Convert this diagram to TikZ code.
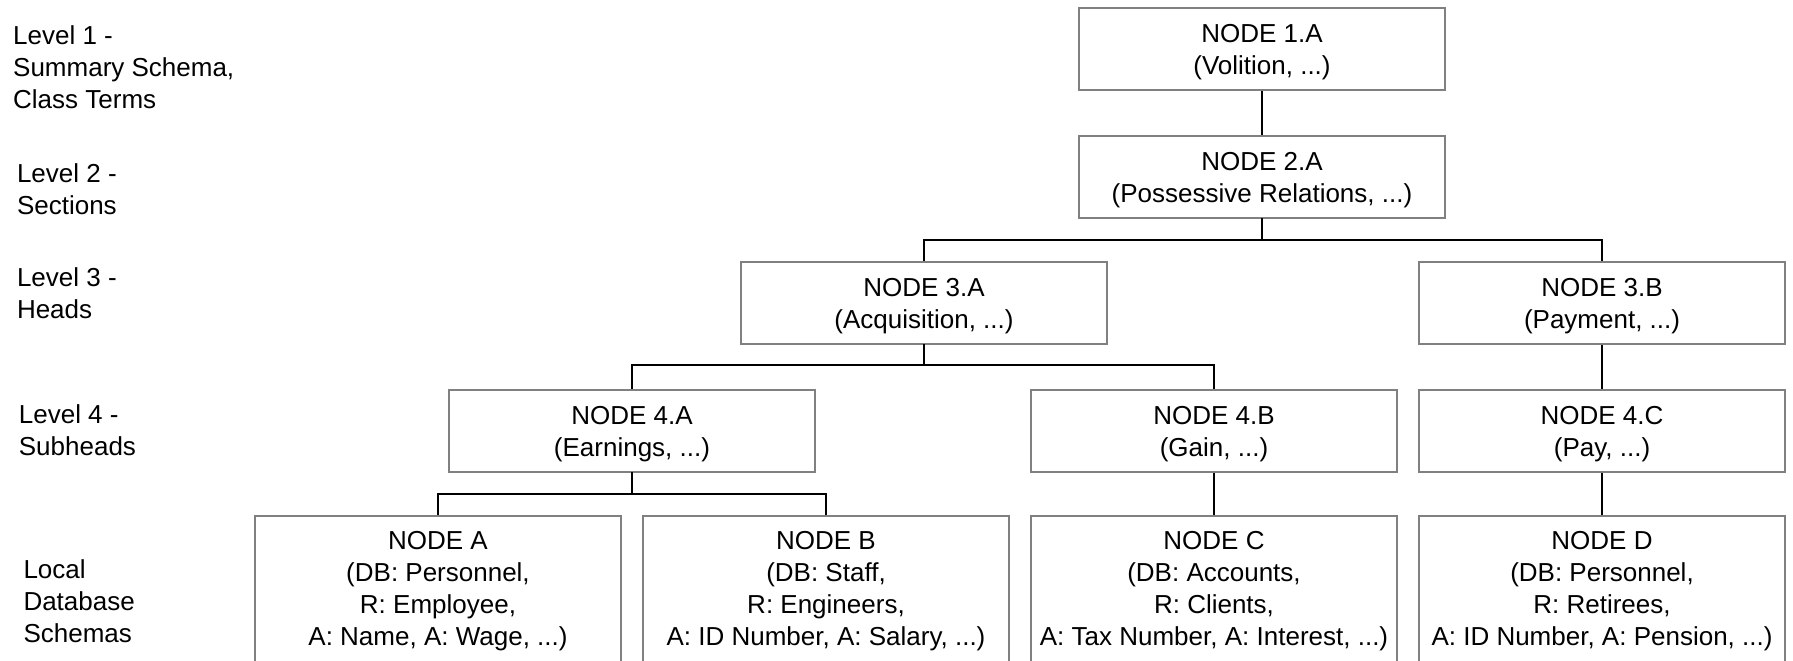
\documentclass[tikz,border=0pt]{standalone}
\usepackage{fontspec}
\setmainfont{Liberation Sans}
\definecolor{boxgray}{HTML}{808080}
\newcommand{\ts}{\rule{0pt}{25pt}}
\newcommand{\bs}{\rule[-5pt]{0pt}{5pt}}
\newcommand{\bsl}{\rule[-11.6pt]{0pt}{11.6pt}}
\begin{document}
\begin{tikzpicture}[x=1pt,y=-1pt,
  txt/.style={font=\fontsize{26}{32}\selectfont},
  box/.style={txt, draw=boxgray, line width=1.8pt, minimum width=366.5pt,
    minimum height=82pt, inner sep=0pt, align=center},
  leaf/.style={box, minimum height=150pt},
  lvl/.style={txt, anchor=north west, inner sep=0pt, align=left},
  bus/.style={line width=1.8pt, black, line cap=rect},
  drop/.style={line width=1.1pt, black}]
\useasboundingbox (0,0) rectangle (1793,661);
\clip (0,0) rectangle (1793,661);

% level labels
\node[lvl] (l1) at (13,19) {\ts Level 1 -\\Summary Schema,\\Class Terms};
\node[lvl] (l2) at (16.8,157.3) {\ts Level 2 -\\Sections};
\node[lvl] (l3) at (16.8,261.5) {\ts Level 3 -\\Heads};
\node[lvl] (l4) at (18.7,398.5) {\ts Level 4 -\\Subheads};
\node[lvl] (l5) at (23.3,553) {\ts Local\\Database\\Schemas};

% boxes
\node[box] (n1a) at (1262,48.8) {\ts NODE 1.A\\(Volition, ...)\bs};
\node[box] (n2a) at (1262,176.8) {\ts NODE 2.A\\(Possessive Relations, ...)\bs};
\node[box] (n3a) at (924,303) {\ts NODE 3.A\\(Acquisition, ...)\bs};
\node[box] (n3b) at (1602,303) {\ts NODE 3.B\\(Payment, ...)\bs};
\node[box] (n4a) at (632,431) {\ts NODE 4.A\\(Earnings, ...)\bs};
\node[box] (n4b) at (1214,431) {\ts NODE 4.B\\(Gain, ...)\bs};
\node[box] (n4c) at (1602,431) {\ts NODE 4.C\\(Pay, ...)\bs};
\node[leaf] (na) at (438,591) {\ts NODE A\\(DB: Personnel,\\R: Employee,\\A: Name, A: Wage, ...)\bsl};
\node[leaf] (nb) at (826,591) {\ts NODE B\\(DB: Staff,\\R: Engineers,\\A: ID Number, A: Salary, ...)\bsl};
\node[leaf] (nc) at (1214,591) {\ts NODE C\\(DB: Accounts,\\R: Clients,\\A: Tax Number, A: Interest, ...)\bsl};
\node[leaf] (nd) at (1602,591) {\ts NODE D\\(DB: Personnel,\\R: Retirees,\\A: ID Number, A: Pension, ...)\bsl};

% bus levels
\coordinate (bus1) at (0,240);
\coordinate (bus2) at (0,365.3);
\coordinate (bus3) at (0,494);

% connectors
\draw[drop] (n1a) -- (n2a);

\draw[bus] (n2a.south) -- (n2a.south |- bus1);
\draw[bus] (n3a.north |- bus1) -- (n3b.north |- bus1);
\draw[drop] (n3a.north |- bus1) -- (n3a.north);
\draw[drop] (n3b.north |- bus1) -- (n3b.north);

\draw[bus] (n3a.south) -- (n3a.south |- bus2);
\draw[bus] (n4a.north |- bus2) -- (n4b.north |- bus2);
\draw[drop] (n4a.north |- bus2) -- (n4a.north);
\draw[drop] (n4b.north |- bus2) -- (n4b.north);

\draw[drop] (n3b) -- (n4c);

\draw[bus] (n4a.south) -- (n4a.south |- bus3);
\draw[bus] (na.north |- bus3) -- (nb.north |- bus3);
\draw[drop] (na.north |- bus3) -- (na.north);
\draw[drop] (nb.north |- bus3) -- (nb.north);

\draw[drop] (n4b) -- (nc);
\draw[drop] (n4c) -- (nd);
\end{tikzpicture}
\end{document}
